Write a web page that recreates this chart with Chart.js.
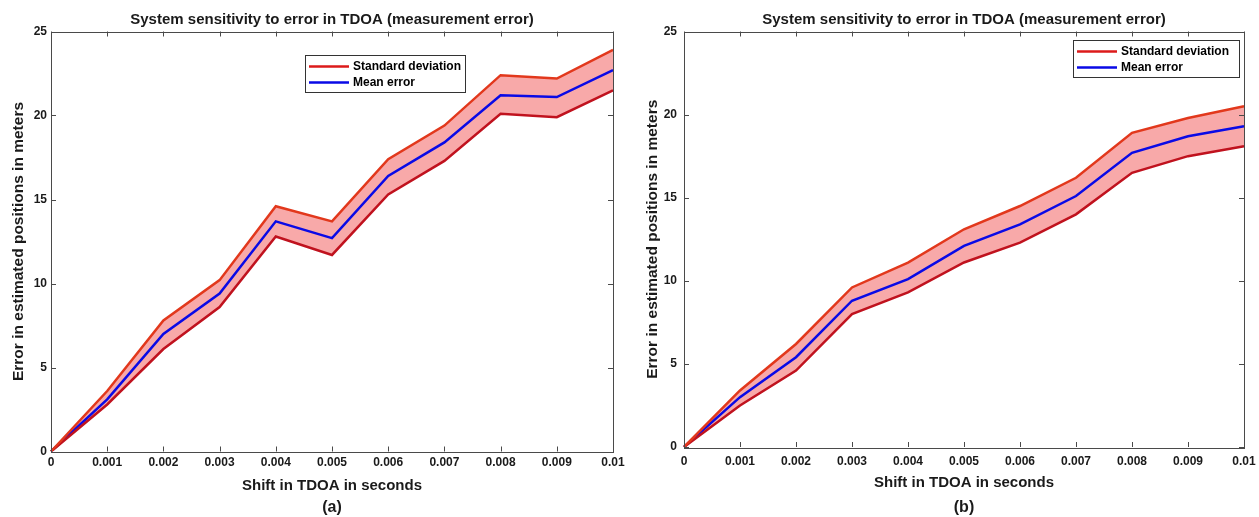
<!DOCTYPE html>
<html>
<head>
<meta charset="utf-8">
<script src="https://cdn.jsdelivr.net/npm/chart.js"></script>
<style>
  html, body { margin: 0; padding: 0; background: #fff; }
  #wrap { position: relative; width: 1259px; height: 517px; }
  canvas { position: absolute; top: 0; }
</style>
</head>
<body>
<div id="wrap">
  <canvas id="chartA" width="630" height="517" style="left:0"></canvas>
  <canvas id="chartB" width="629" height="517" style="left:630px"></canvas>
</div>
<script>
// x axis categories (shift in TDOA, seconds)
const xLabels = ['0', '0.001', '0.002', '0.003', '0.004', '0.005', '0.006', '0.007', '0.008', '0.009', '0.01'];
const yTicks = [0, 5, 10, 15, 20, 25];

// panel (a)
const upperA = [0, 3.6, 7.8, 10.2, 14.6, 13.7, 17.4, 19.4, 22.4, 22.2, 23.9];
const meanA  = [0, 3.1, 7.0, 9.4, 13.7, 12.7, 16.4, 18.4, 21.2, 21.1, 22.7];
const lowerA = [0, 2.8, 6.1, 8.6, 12.8, 11.7, 15.3, 17.3, 20.1, 19.9, 21.5];

// panel (b)
const upperB = [0, 3.4, 6.2, 9.6, 11.1, 13.1, 14.5, 16.2, 18.9, 19.8, 20.5];
const meanB  = [0, 3.0, 5.4, 8.8, 10.1, 12.1, 13.4, 15.1, 17.7, 18.7, 19.3];
const lowerB = [0, 2.5, 4.6, 8.0, 9.3, 11.1, 12.3, 14.0, 16.5, 17.5, 18.1];

const titleText = 'System sensitivity to error in TDOA (measurement error)';
const xTitle = 'Shift in TDOA in seconds';
const yTitle = 'Error in estimated positions in meters';
const legendLabels = ['Standard deviation', 'Mean error'];

const FONT = "'Liberation Sans', Arial, Helvetica, sans-serif";
const INK = '#1a1a1a';
const RED = '#dc1a1a';
const RED_UP = '#e2381c';
const RED_LOW = '#c0121e';
const BLUE = '#0a0ae6';
const PINK = '#f8a9a9';

// box + inward ticks, like a matlab axes
const frameTicks = {
    id: 'frameTicks',
    afterDatasetsDraw(chart) {
        const {ctx, chartArea: a, scales: {x, y}} = chart;
        ctx.save();
        ctx.strokeStyle = '#4a4a4a';
        ctx.lineWidth = 1;
        ctx.beginPath();
        x.ticks.forEach((t, i) => {
            const px = Math.round(x.getPixelForTick(i)) + 0.5;
            ctx.moveTo(px, a.bottom); ctx.lineTo(px, a.bottom - 5);
            ctx.moveTo(px, a.top); ctx.lineTo(px, a.top + 5);
        });
        y.ticks.forEach((t, i) => {
            const py = Math.round(y.getPixelForTick(i)) + 0.5;
            ctx.moveTo(a.left, py); ctx.lineTo(a.left + 5, py);
            ctx.moveTo(a.right, py); ctx.lineTo(a.right - 5, py);
        });
        ctx.stroke();
        ctx.strokeRect(Math.round(a.left) + 0.5, Math.round(a.top) + 0.5,
            Math.round(a.right - a.left), Math.round(a.bottom - a.top));
        ctx.restore();
    }
};

const boxLegend = {
    id: 'boxLegend',
    afterDraw(chart, args, opts) {
        const {ctx} = chart;
        const b = opts.box;
        ctx.save();
        ctx.fillStyle = '#fff';
        ctx.fillRect(b.x, b.y, b.w, b.h);
        ctx.strokeStyle = '#333';
        ctx.lineWidth = 1;
        ctx.strokeRect(b.x + 0.5, b.y + 0.5, b.w, b.h);
        const colors = [RED, BLUE];
        ctx.font = 'bold 12px ' + FONT;
        ctx.textBaseline = 'middle';
        ctx.textAlign = 'left';
        legendLabels.forEach((lbl, i) => {
            const ry = b.y + 11.5 + i * 16;
            ctx.strokeStyle = colors[i];
            ctx.lineWidth = 2.5;
            ctx.beginPath();
            ctx.moveTo(b.x + 4, ry);
            ctx.lineTo(b.x + 44, ry);
            ctx.stroke();
            ctx.fillStyle = '#000';
            ctx.fillText(lbl, b.x + 48, ry + 0.5);
        });
        ctx.restore();
    }
};

function makePanel(id, upper, mean, lower, caption, geo) {
    const ctx = document.getElementById(id).getContext('2d');
    return new Chart(ctx, {
        type: 'line',
        data: {
            labels: xLabels,
            datasets: [
                { data: upper, borderColor: RED_UP, borderWidth: 2.5, backgroundColor: PINK, fill: '+1', pointRadius: 0, tension: 0 },
                { data: lower, borderColor: RED_LOW, borderWidth: 2.5, fill: false, pointRadius: 0, tension: 0 },
                { data: mean, borderColor: BLUE, borderWidth: 2.5, fill: false, pointRadius: 0, tension: 0 }
            ]
        },
        options: {
            responsive: false,
            animation: false,
            devicePixelRatio: 1,
            layout: { padding: { left: 0, right: geo.padRight, top: 0, bottom: 0 } },
            plugins: {
                filler: { drawTime: 'beforeDatasetsDraw' },
                legend: { display: false },
                tooltip: { enabled: false },
                title: {
                    display: true, text: titleText, color: INK, fullSize: false,
                    font: { family: FONT, size: 15, weight: 'bold' },
                    padding: { top: 11, bottom: 2.5 }
                },
                subtitle: {
                    display: true, text: caption, position: 'bottom', color: INK, fullSize: false,
                    font: { family: FONT, size: 16, weight: 'bold' },
                    padding: { top: 0, bottom: 0 }
                },
                boxLegend: { box: geo.legend }
            },
            scales: {
                x: {
                    type: 'category',
                    offset: false,
                    grid: { display: false, drawTicks: false },
                    border: { display: false },
                    ticks: { color: INK, font: { family: FONT, size: 12, weight: 'bold' }, padding: geo.xTickPad, maxRotation: 0, autoSkip: false },
                    title: { display: true, text: xTitle, color: INK, font: { family: FONT, size: 15, weight: 'bold' }, padding: { top: 0, bottom: geo.xTitlePad } },
                    afterFit: s => { s.height = geo.xHeight; s.paddingLeft = 0; s.paddingRight = 0; }
                },
                y: {
                    min: yTicks[0],
                    max: yTicks[yTicks.length - 1],
                    grid: { display: false, drawTicks: false },
                    border: { display: false },
                    afterBuildTicks: s => { s.ticks = yTicks.map(v => ({ value: v })); },
                    ticks: { color: INK, font: { family: FONT, size: 12, weight: 'bold' }, padding: geo.yTickPad },
                    title: { display: true, text: yTitle, color: INK, font: { family: FONT, size: 15.5, weight: 'bold' }, padding: { top: geo.yTitlePad, bottom: 0 } },
                    afterFit: s => { s.width = geo.yWidth; s.paddingTop = 0; s.paddingBottom = 0; }
                }
            }
        },
        plugins: [frameTicks, boxLegend]
    });
}

makePanel('chartA', upperA, meanA, lowerA, '(a)', {
    yWidth: 51, padRight: 17, xHeight: 46.3, yTickPad: 4, yTitlePad: 9,
    xTickPad: 4, xTitlePad: 2.8, legend: { x: 305, y: 55, w: 160, h: 37 }
});
makePanel('chartB', upperB, meanB, lowerB, '(b)', {
    yWidth: 54, padRight: 15, xHeight: 50.8, yTickPad: 7, yTitlePad: 13,
    xTickPad: 7, xTitlePad: 5.8, legend: { x: 443, y: 40, w: 166, h: 37 }
});
</script>
</body>
</html>
